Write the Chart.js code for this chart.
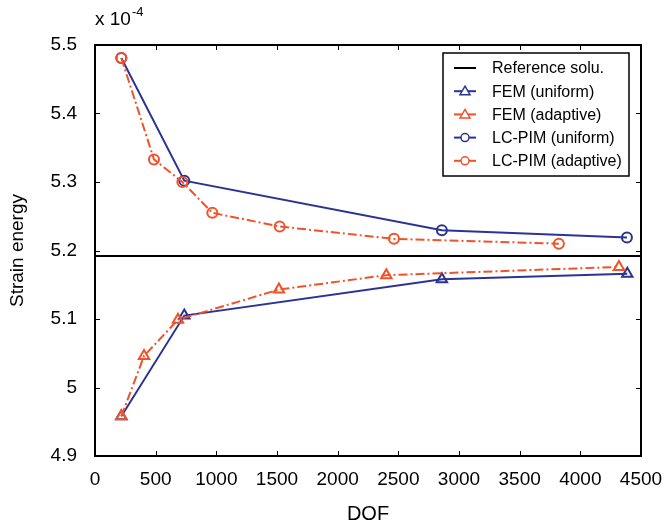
<!DOCTYPE html>
<html>
<head>
<meta charset="utf-8">
<script src="https://cdn.jsdelivr.net/npm/chart.js@4"></script>
<style>
    html, body { margin: 0; padding: 0; background: #fff; }
    #wrap { width: 667px; height: 526px; }
</style>
</head>
<body>
<div id="wrap"><canvas id="energyChart" width="667" height="526"></canvas></div>
<script>
// values (strain energy in units of 1e-4)
const dofFemUniform = [217, 736, 2859, 4387];
const seFemUniform = [4.958, 5.105, 5.158, 5.166];
const dofFemAdaptive = [217, 404, 684, 1516, 2401, 4318];
const seFemAdaptive = [4.958, 5.046, 5.099, 5.143, 5.164, 5.176];
const dofPimUniform = [217, 736, 2859, 4384];
const sePimUniform = [5.481, 5.302, 5.2295, 5.219];
const dofPimAdaptive = [217, 486, 720, 967, 1522, 2464, 3823];
const sePimAdaptive = [5.481, 5.333, 5.300, 5.255, 5.235, 5.217, 5.210];
const refDof = [0, 4500];
const refEnergy = [5.192, 5.192];

const xTicks = [0, 500, 1000, 1500, 2000, 2500, 3000, 3500, 4000, 4500];
const yTicks = [4.9, 5.0, 5.1, 5.2, 5.3, 5.4, 5.5];
const seriesLabels = ['Reference solu.', 'FEM (uniform)', 'FEM (adaptive)', 'LC-PIM (uniform)', 'LC-PIM (adaptive)'];

const BLUE = '#2b3493';
const ORANGE = '#f0522a';
const FONT = "'Liberation Sans', Arial, sans-serif";

const toPoints = (xs, ys) => xs.map((x, i) => ({ x: x, y: ys[i] }));

function series(label, xs, ys, color, style, dashed, order) {
    return {
        label: label,
        data: toPoints(xs, ys),
        showLine: true,
        borderColor: color,
        backgroundColor: '#fff',
        borderWidth: 2,
        borderDash: dashed ? [9, 3, 2, 3] : [],
        pointStyle: style,
        pointRadius: style === 'triangle' ? 6 : 5,
        pointBorderColor: color,
        pointBackgroundColor: 'rgba(255,255,255,0)',
        pointBorderWidth: 2,
        order: order
    };
}

// box, inward ticks, exponent note
const framePlugin = {
    id: 'frame',
    afterDatasetsDraw(chart) {
        const { ctx, chartArea: a, scales } = chart;
        ctx.save();
        ctx.strokeStyle = '#000';
        ctx.lineWidth = 1;
        const t = 5;
        ctx.beginPath();
        xTicks.forEach(v => {
            const px = Math.round(scales.x.getPixelForValue(v)) + 0.5;
            ctx.moveTo(px, a.bottom); ctx.lineTo(px, a.bottom - t);
            ctx.moveTo(px, a.top); ctx.lineTo(px, a.top + t);
        });
        yTicks.forEach(v => {
            const py = Math.round(scales.y.getPixelForValue(v)) + 0.5;
            ctx.moveTo(a.left, py); ctx.lineTo(a.left + t, py);
            ctx.moveTo(a.right, py); ctx.lineTo(a.right - t, py);
        });
        ctx.stroke();
        ctx.lineWidth = 2;
        ctx.strokeRect(a.left, a.top, a.right - a.left, a.bottom - a.top);

        ctx.fillStyle = '#000';
        ctx.textBaseline = 'alphabetic';
        ctx.textAlign = 'left';
        ctx.font = '19px ' + FONT;
        ctx.fillText('x 10', a.left, a.top - 20);
        const w = ctx.measureText('x 10').width;
        ctx.font = '13px ' + FONT;
        ctx.fillText('-4', a.left + w + 1, a.top - 29);
        ctx.restore();
    }
};

const legendPlugin = {
    id: 'boxLegend',
    afterDraw(chart) {
        const { ctx, chartArea: a } = chart;
        const left = a.right - 198, top = a.top + 8, w = 186, h = 123;
        ctx.save();
        ctx.fillStyle = '#fff';
        ctx.fillRect(left, top, w, h);
        ctx.strokeStyle = '#000';
        ctx.lineWidth = 1.5;
        ctx.strokeRect(left, top, w, h);
        ctx.font = '16px ' + FONT;
        ctx.textBaseline = 'middle';
        chart.data.datasets.slice().sort((p, q) => seriesLabels.indexOf(p.label) - seriesLabels.indexOf(q.label)).forEach((ds, i) => {
            const y = top + 15 + i * 23.2;
            ctx.strokeStyle = ds.borderColor;
            ctx.lineWidth = 2;
            ctx.setLineDash([]);
            ctx.beginPath();
            ctx.moveTo(left + 11, y); ctx.lineTo(left + 33, y);
            ctx.stroke();
            if (ds.pointStyle === 'triangle' || ds.pointStyle === 'circle') {
                ctx.lineWidth = 1.5;
                ctx.beginPath();
                if (ds.pointStyle === 'circle') {
                    ctx.arc(left + 22, y, 4, 0, Math.PI * 2);
                } else {
                    ctx.moveTo(left + 22, y - 5);
                    ctx.lineTo(left + 27, y + 3.5);
                    ctx.lineTo(left + 17, y + 3.5);
                    ctx.closePath();
                }
                ctx.fillStyle = '#fff';
                ctx.fill();
                ctx.stroke();
            }
            ctx.fillStyle = '#000';
            ctx.fillText(ds.label, left + 49, y + 1);
        });
        ctx.restore();
    }
};

const refSet = series(seriesLabels[0], refDof, refEnergy, '#000', false, false, 5);
refSet.pointRadius = 0;
refSet.borderWidth = 2;

new Chart(document.getElementById('energyChart'), {
    type: 'scatter',
    data: {
        datasets: [
            refSet,
            series(seriesLabels[1], dofFemUniform, seFemUniform, BLUE, 'triangle', false, 3),
            series(seriesLabels[2], dofFemAdaptive, seFemAdaptive, ORANGE, 'triangle', true, 1),
            series(seriesLabels[3], dofPimUniform, sePimUniform, BLUE, 'circle', false, 4),
            series(seriesLabels[4], dofPimAdaptive, sePimAdaptive, ORANGE, 'circle', true, 2)
        ]
    },
    options: {
        responsive: false,
        animation: false,
        layout: { padding: { top: 45, right: 26, left: 0, bottom: 0 } },
        plugins: {
            legend: { display: false },
            tooltip: { enabled: false }
        },
        scales: {
            x: {
                type: 'linear',
                min: 0,
                max: 4500,
                afterFit: s => { s.height = 70; s.paddingLeft = 0; s.paddingRight = 0; },
                afterBuildTicks: s => { s.ticks = xTicks.map(v => ({ value: v })); },
                grid: { display: false, drawTicks: false },
                border: { display: false },
                ticks: {
                    color: '#000',
                    font: { family: FONT, size: 19 },
                    padding: 12,
                    maxRotation: 0,
                    callback: v => String(v)
                },
                title: { display: true, text: 'DOF', color: '#000', font: { family: FONT, size: 20 }, padding: { top: 3, bottom: 0 } }
            },
            y: {
                type: 'linear',
                min: 4.9,
                max: 5.5,
                afterFit: s => { s.width = 95; s.paddingTop = 0; s.paddingBottom = 0; },
                afterBuildTicks: s => { s.ticks = yTicks.map(v => ({ value: v })); },
                grid: { display: false, drawTicks: false },
                border: { display: false },
                ticks: {
                    color: '#000',
                    font: { family: FONT, size: 19 },
                    padding: 18,
                    callback: v => String(Number(v.toFixed(1)))
                },
                title: { display: true, text: 'Strain energy', color: '#000', font: { family: FONT, size: 19 }, padding: { top: 6, bottom: 0 } }
            }
        }
    },
    plugins: [framePlugin, legendPlugin]
});
</script>
</body>
</html>
